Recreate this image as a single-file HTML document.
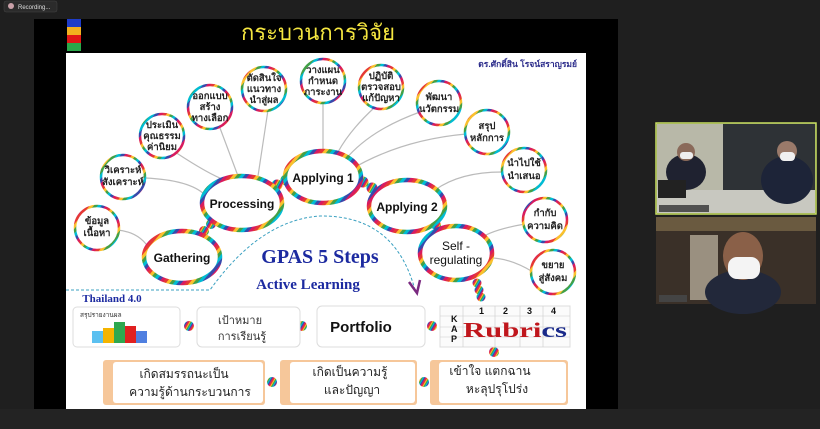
<!DOCTYPE html>
<html><head><meta charset="utf-8"><style>
html,body{margin:0;padding:0;width:820px;height:429px;overflow:hidden;background:#1f1f1f;font-family:"Liberation Sans","Noto Sans CJK SC",sans-serif}
</style></head><body>
<svg width="820" height="429" viewBox="0 0 820 429" xmlns="http://www.w3.org/2000/svg" font-family="Liberation Sans, Noto Sans CJK SC, sans-serif">
<defs>
<pattern id="rb" width="18" height="18" patternUnits="userSpaceOnUse" patternTransform="rotate(40)">
<rect x="0" y="0" width="3" height="18" fill="#e53935"/><rect x="3" y="0" width="3" height="18" fill="#fbc02d"/><rect x="6" y="0" width="3" height="18" fill="#43a047"/><rect x="9" y="0" width="3" height="18" fill="#00bcd4"/><rect x="12" y="0" width="3" height="18" fill="#3949ab"/><rect x="15" y="0" width="3" height="18" fill="#d81b60"/>
</pattern>
<pattern id="rb2" width="6" height="6" patternUnits="userSpaceOnUse" patternTransform="rotate(30)">
<rect x="0" y="0" width="1" height="6" fill="#e53935"/><rect x="1" y="0" width="1" height="6" fill="#fbc02d"/><rect x="2" y="0" width="1" height="6" fill="#43a047"/><rect x="3" y="0" width="1" height="6" fill="#00bcd4"/><rect x="4" y="0" width="1" height="6" fill="#3949ab"/><rect x="5" y="0" width="1" height="6" fill="#d81b60"/>
</pattern>
</defs>
<rect x="0" y="0" width="820" height="429" fill="#1f1f1f"/>
<rect x="4" y="1" width="53" height="11" rx="2" fill="#2b2b2b" stroke="#444" stroke-width="0.5"/>
<circle cx="11" cy="6" r="3" fill="#c9a0a8"/>
<text x="18" y="9" font-size="6" fill="#ddd">Recording...</text>
<rect x="34" y="19" width="584" height="390" fill="#000"/>
<rect x="67" y="19" width="14" height="8" fill="#1e3cc8"/><rect x="67" y="27" width="14" height="8" fill="#f2b01e"/><rect x="67" y="35" width="14" height="8" fill="#e01616"/><rect x="67" y="43" width="14" height="8" fill="#2aa84a"/>
<text x="318" y="40" font-size="22" fill="#f5e640" text-anchor="middle">กระบวนการวิจัย</text>
<rect x="66" y="53" width="520" height="356" fill="#fff"/>
<text x="577" y="67" font-size="8.5" fill="#2a2a8a" text-anchor="end" font-weight="bold">ดร.ศักดิ์สิน โรจน์สราญรมย์</text>
<g fill="none" stroke="#bbb" stroke-width="1.2">
<path d="M117,230 Q140,232 150,250"/>
<path d="M145,178 Q190,180 205,195"/>
<path d="M175,152 Q210,175 225,180"/>
<path d="M220,128 Q232,160 238,176"/>
<path d="M268,110 Q262,150 258,176"/>
<path d="M323,102 L323,152"/>
<path d="M375,107 Q350,130 338,152"/>
<path d="M420,112 Q370,130 345,160"/>
<path d="M466,134 Q400,140 350,170"/>
<path d="M502,172 Q460,172 435,190"/>
<path d="M525,224 Q490,230 478,240"/>
<path d="M533,272 Q510,258 490,258"/>
</g>
<path d="M66,290 L210,290 Q260,220 320,216 Q395,215 415,290" fill="none" stroke="#3aa0c0" stroke-width="1" stroke-dasharray="3 2"/>
<path d="M409,282 L417,293 L420,280" fill="none" stroke="#7a2a80" stroke-width="2.5"/>
<g fill="url(#rb2)">
<circle cx="204" cy="231" r="5"/><circle cx="211" cy="224" r="5"/>
<circle cx="277" cy="185" r="5.5"/><circle cx="286" cy="180" r="5.5"/>
<circle cx="363" cy="182" r="5.5"/><circle cx="372" cy="188" r="5.5"/>
<circle cx="436" cy="225" r="5"/><circle cx="441" cy="233" r="5"/>
<circle cx="477" cy="283" r="4.5"/><circle cx="479" cy="290" r="4.5"/><circle cx="481" cy="297" r="4.5"/>
<circle cx="494" cy="352" r="5"/>
<circle cx="432" cy="326" r="5"/><circle cx="302" cy="326" r="5"/><circle cx="189" cy="326" r="5"/>
<circle cx="424" cy="382" r="5"/><circle cx="272" cy="382" r="5"/>
</g>
<g fill="#fff" stroke="url(#rb)" stroke-width="4.5">
<ellipse cx="182" cy="257" rx="38" ry="26"/>
<ellipse cx="242" cy="203" rx="40" ry="27"/>
<ellipse cx="323" cy="177" rx="38" ry="26"/>
<ellipse cx="407" cy="206" rx="38" ry="26"/>
<ellipse cx="456" cy="253" rx="36" ry="27"/>
</g>
<g font-size="12" font-weight="bold" fill="#111" text-anchor="middle">
<text x="182" y="262">Gathering</text>
<text x="242" y="208">Processing</text>
<text x="323" y="182">Applying 1</text>
<text x="407" y="211">Applying 2</text>
<text x="456" y="250" font-weight="normal">Self -</text>
<text x="456" y="264" font-weight="normal">regulating</text>
</g>
<g fill="#fff" stroke="url(#rb)" stroke-width="2.5">
<circle cx="97" cy="228" r="22"/><circle cx="123" cy="177" r="22"/><circle cx="162" cy="136" r="22"/>
<circle cx="210" cy="107" r="22"/><circle cx="264" cy="89" r="22"/><circle cx="323" cy="81" r="22"/>
<circle cx="381" cy="87" r="22"/><circle cx="439" cy="103" r="22"/><circle cx="487" cy="132" r="22"/>
<circle cx="524" cy="170" r="22"/><circle cx="545" cy="220" r="22"/><circle cx="553" cy="272" r="22"/>
</g>
<g font-size="9.5" fill="#222" text-anchor="middle" font-weight="bold">
<text x="97" y="224">ข้อมูล</text><text x="97" y="236">เนื้อหา</text>
<text x="123" y="173">วิเคราะห์</text><text x="123" y="185">สังเคราะห์</text>
<text x="162" y="128">ประเมิน</text><text x="162" y="139">คุณธรรม</text><text x="162" y="150">ค่านิยม</text>
<text x="210" y="99">ออกแบบ</text><text x="210" y="110">สร้าง</text><text x="210" y="121">ทางเลือก</text>
<text x="264" y="81">ตัดสินใจ</text><text x="264" y="92">แนวทาง</text><text x="264" y="103">นำสู่ผล</text>
<text x="323" y="73">วางแผน</text><text x="323" y="84">กำหนด</text><text x="323" y="95">ภาระงาน</text>
<text x="381" y="79">ปฏิบัติ</text><text x="381" y="90">ตรวจสอบ</text><text x="381" y="101">แก้ปัญหา</text>
<text x="439" y="100">พัฒนา</text><text x="439" y="112">นวัตกรรม</text>
<text x="487" y="129">สรุป</text><text x="487" y="141">หลักการ</text>
<text x="524" y="166">นำไปใช้</text><text x="524" y="179">นำเสนอ</text>
<text x="545" y="216">กำกับ</text><text x="545" y="229">ความคิด</text>
<text x="553" y="268">ขยาย</text><text x="553" y="281">สู่สังคม</text>
</g>
<g font-family="Liberation Serif, serif" font-weight="bold" fill="#1c2aa0" text-anchor="middle">
<text x="320" y="263" font-size="20">GPAS 5 Steps</text>
<text x="308" y="289" font-size="15">Active Learning</text>
<text x="112" y="302" font-size="11">Thailand 4.0</text>
</g>
<g fill="#fff" stroke="#ddd" stroke-width="1">
<rect x="73" y="307" width="107" height="40" rx="4"/>
<rect x="197" y="307" width="103" height="40" rx="5"/>
<rect x="317" y="306" width="108" height="41" rx="5"/>
<rect x="440" y="306" width="130" height="41" fill="#fbfbfb"/>
</g>
<text x="80" y="317" font-size="6.5" fill="#333">สรุปรายงานผล</text>
<rect x="92" y="331" width="11" height="12" fill="#5bc0f0"/><rect x="103" y="328" width="11" height="15" fill="#f4b400"/><rect x="114" y="322" width="11" height="21" fill="#2ea84f"/><rect x="125" y="326" width="11" height="17" fill="#e02020"/><rect x="136" y="331" width="11" height="12" fill="#4f7fe0"/>
<text x="240" y="324" font-size="11" fill="#333" text-anchor="middle">เป้าหมาย</text>
<text x="242" y="340" font-size="11" fill="#333" text-anchor="middle">การเรียนรู้</text>
<text x="361" y="332" font-size="15" font-weight="bold" fill="#111" text-anchor="middle">Portfolio</text>
<g stroke="#ccc" stroke-width="0.6">
<line x1="440" y1="316" x2="570" y2="316"/><line x1="440" y1="327" x2="570" y2="327"/><line x1="440" y1="337" x2="570" y2="337"/>
<line x1="463" y1="306" x2="463" y2="347"/><line x1="495" y1="306" x2="495" y2="347"/><line x1="520" y1="306" x2="520" y2="347"/><line x1="543" y1="306" x2="543" y2="347"/>
</g>
<g font-size="9" font-weight="bold" fill="#111">
<text x="451" y="322">K</text><text x="451" y="332">A</text><text x="451" y="342">P</text>
<text x="479" y="314">1</text><text x="503" y="314">2</text><text x="527" y="314">3</text><text x="551" y="314">4</text>
</g>
<text x="463" y="337" font-family="Liberation Serif, serif" font-weight="bold" font-size="21" fill="#c0161c" textLength="104" lengthAdjust="spacingAndGlyphs">Rubri<tspan fill="#1a2a8a">cs</tspan></text>
<g fill="#f6c79a">
<rect x="103" y="360" width="162" height="45" rx="3"/>
<rect x="280" y="360" width="137" height="45" rx="3"/>
<rect x="430" y="360" width="138" height="45" rx="3"/>
</g>
<g fill="#fff">
<rect x="113" y="362" width="150" height="41" rx="3"/>
<rect x="290" y="362" width="125" height="41" rx="3"/>
<rect x="439" y="362" width="127" height="41" rx="3"/>
</g>
<g font-size="12" fill="#222" text-anchor="middle">
<text x="184" y="378">เกิดสมรรถนะเป็น</text><text x="190" y="396">ความรู้ด้านกระบวนการ</text>
<text x="350" y="376">เกิดเป็นความรู้</text><text x="352" y="394">และปัญญา</text>
<text x="490" y="375">เข้าใจ แตกฉาน</text><text x="497" y="393">หะลุปรุโปร่ง</text>
</g>
<rect x="0" y="409" width="820" height="20" fill="#232323"/>
<rect x="656" y="123" width="160" height="91" fill="#5a5a50" stroke="#c8e060" stroke-width="1.5"/>
<rect x="657" y="124" width="66" height="89" fill="#b8b8a8"/>
<rect x="723" y="124" width="92" height="89" fill="#2e3236"/>
<rect x="657" y="190" width="158" height="23" fill="#c8c8c0"/>
<ellipse cx="686" cy="172" rx="20" ry="18" fill="#1f2230"/>
<circle cx="686" cy="152" r="9" fill="#8a6a5a"/><rect x="680" y="152" width="13" height="7" fill="#eee" rx="3"/>
<rect x="658" y="180" width="28" height="18" fill="#222"/>
<ellipse cx="787" cy="180" rx="26" ry="24" fill="#1d2438"/>
<circle cx="787" cy="151" r="10" fill="#9a7a6a"/><rect x="780" y="152" width="15" height="9" fill="#f0f0f0" rx="4"/>
<rect x="659" y="205" width="50" height="7" fill="#333" opacity="0.8"/>
<rect x="656" y="217" width="160" height="87" fill="#3a3028"/>
<rect x="656" y="217" width="160" height="14" fill="#6a5a40"/>
<rect x="690" y="235" width="28" height="65" fill="#9a9080"/>
<ellipse cx="743" cy="292" rx="38" ry="22" fill="#22283a"/>
<ellipse cx="743" cy="256" rx="20" ry="24" fill="#8a6048"/>
<rect x="728" y="257" width="32" height="22" rx="9" fill="#f4f4f4"/>
<rect x="659" y="295" width="28" height="7" fill="#444"/>
</svg>
</body></html>
